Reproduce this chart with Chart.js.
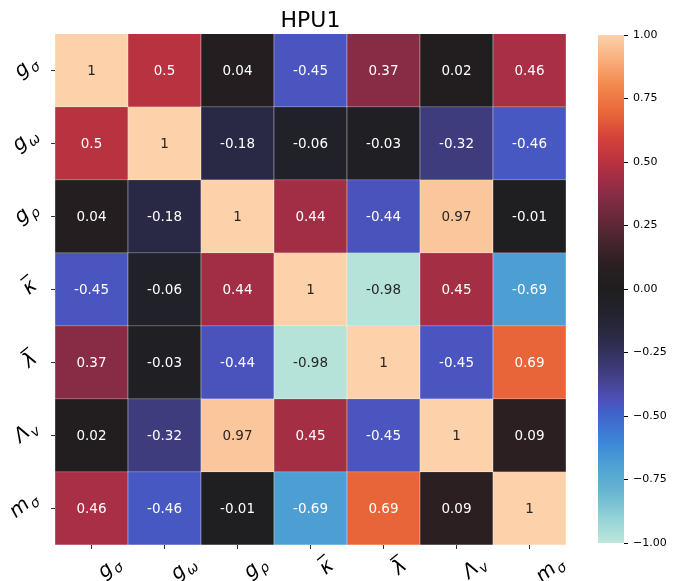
<!DOCTYPE html>
<html>
<head>
<meta charset="utf-8">
<script src="https://cdn.jsdelivr.net/npm/chart.js@4.4.0/dist/chart.umd.min.js"></script>
<style>
  body { margin: 0; background: #fff; }
  #wrap { position: relative; width: 691px; height: 581px; overflow: hidden; }
  #main { position: absolute; left: 0; top: 0; width: 691px; height: 581px; }
  #cbar { position: absolute; left: 590px; top: 0; width: 101px; height: 581px; }
</style>
</head>
<body>
<div id="wrap">
  <div id="main"><canvas id="heat"></canvas></div>
  <div id="cbar"><canvas id="bar"></canvas></div>
</div>
<script>
const title = "HPU1";

// axis labels: base symbol, subscript, overbar
const labelBase = ["g", "g", "g", "κ", "λ", "Λ", "m"];
const labelSub = ["σ", "ω", "ρ", "", "", "v", "σ"];
const labelBar = [false, false, false, true, true, false, false];

// correlation matrix, one row at a time
const rowGs = [1, 0.5, 0.04, -0.45, 0.37, 0.02, 0.46];
const rowGw = [0.5, 1, -0.18, -0.06, -0.03, -0.32, -0.46];
const rowGr = [0.04, -0.18, 1, 0.44, -0.44, 0.97, -0.01];
const rowKappa = [-0.45, -0.06, 0.44, 1, -0.98, 0.45, -0.69];
const rowLambda = [0.37, -0.03, -0.44, -0.98, 1, -0.45, 0.69];
const rowLv = [0.02, -0.32, 0.97, 0.45, -0.45, 1, 0.09];
const rowMs = [0.46, -0.46, -0.01, -0.69, 0.69, 0.09, 1];
const corr = [rowGs, rowGw, rowGr, rowKappa, rowLambda, rowLv, rowMs];

// colour bar range and ticks
const cbMin = -1, cbMax = 1, cbStep = 0.25;

// approximate "icefire" colour map
const stops = [
  [-1.00, "#bde7db"], [-0.90, "#93d2d6"], [-0.80, "#69b5d1"], [-0.70, "#4fa2d2"],
  [-0.60, "#3c86d8"], [-0.50, "#3f66cc"], [-0.45, "#4a55c0"], [-0.40, "#4a4aa6"],
  [-0.30, "#3b3972"], [-0.20, "#2c2b4a"], [-0.10, "#232330"], [0.00, "#1f1e1f"],
  [0.10, "#2c1f22"], [0.20, "#4a2530"], [0.30, "#6f2a3c"], [0.37, "#872c44"],
  [0.46, "#a82f45"], [0.50, "#b9323f"], [0.60, "#d5433a"], [0.69, "#e8653a"],
  [0.80, "#f3884c"], [0.90, "#f9ad7b"], [1.00, "#fdd1aa"]
];

function hex2rgb(h) {
  return [parseInt(h.slice(1, 3), 16), parseInt(h.slice(3, 5), 16), parseInt(h.slice(5, 7), 16)];
}
function colorRGB(v) {
  for (let k = 0; k < stops.length - 1; k++) {
    const a = stops[k], b = stops[k + 1];
    if (v >= a[0] && v <= b[0]) {
      const t = (v - a[0]) / (b[0] - a[0]);
      const ca = hex2rgb(a[1]), cb = hex2rgb(b[1]);
      return ca.map((c, i) => Math.round(c + (cb[i] - c) * t));
    }
  }
  return hex2rgb(v < 0 ? stops[0][1] : stops[stops.length - 1][1]);
}
function colorFor(v) {
  const c = colorRGB(v);
  return `rgb(${c[0]},${c[1]},${c[2]})`;
}
function textColorFor(v) {
  const lin = colorRGB(v).map(c => {
    c = c / 255;
    return c <= 0.03928 ? c / 12.92 : Math.pow((c + 0.055) / 1.055, 2.4);
  });
  const lum = 0.2126 * lin[0] + 0.7152 * lin[1] + 0.0722 * lin[2];
  return lum > 0.408 ? "#262626" : "#ffffff";
}

const FONT = '"DejaVu Sans", sans-serif';
const ROT = 40 * Math.PI / 180;

function labelSize(ctx, i) {
  ctx.font = "italic 20px " + FONT;
  const wb = ctx.measureText(labelBase[i]).width;
  ctx.font = "italic 14px " + FONT;
  const ws = labelSub[i] ? ctx.measureText(labelSub[i]).width + 1 : 0;
  return { wb: wb, w: wb + ws, a: labelBar[i] ? 19 : 15, d: 6 };
}

function rotatedBox(m) {
  const c = Math.cos(ROT), s = Math.sin(ROT);
  const xs = [], ys = [];
  [[0, -m.a], [m.w, -m.a], [0, m.d], [m.w, m.d]].forEach(p => {
    xs.push(p[0] * c + p[1] * s);
    ys.push(-p[0] * s + p[1] * c);
  });
  return { minX: Math.min(...xs), maxX: Math.max(...xs), minY: Math.min(...ys), maxY: Math.max(...ys) };
}

function drawLabel(ctx, i, px, py, m) {
  ctx.save();
  ctx.translate(px, py);
  ctx.rotate(-ROT);
  ctx.fillStyle = "#000";
  ctx.textAlign = "left";
  ctx.textBaseline = "alphabetic";
  ctx.font = "italic 20px " + FONT;
  ctx.fillText(labelBase[i], 0, 0);
  if (labelSub[i]) {
    ctx.font = "italic 14px " + FONT;
    ctx.fillText(labelSub[i], m.wb + 1, 5);
  }
  if (labelBar[i]) {
    ctx.strokeStyle = "#000";
    ctx.lineWidth = 1.3;
    ctx.beginPath();
    ctx.moveTo(3, -17);
    ctx.lineTo(m.wb + 1, -17);
    ctx.stroke();
  }
  ctx.restore();
}

const heatLabels = {
  id: "heatLabels",
  afterDatasetsDraw(chart) {
    const ctx = chart.ctx;
    const ca = chart.chartArea;
    // cell values
    ctx.save();
    ctx.font = "13.5px " + FONT;
    ctx.textAlign = "center";
    ctx.textBaseline = "middle";
    corr.forEach((row, i) => {
      const meta = chart.getDatasetMeta(i);
      meta.data.forEach((el, j) => {
        ctx.fillStyle = textColorFor(row[j]);
        ctx.fillText(String(row[j]), el.x, (el.y + el.base) / 2 + 1);
      });
    });
    ctx.restore();

    // title
    ctx.save();
    ctx.font = "22px " + FONT;
    ctx.fillStyle = "#000";
    ctx.textAlign = "center";
    ctx.textBaseline = "alphabetic";
    ctx.fillText(title, (ca.left + ca.right) / 2, 27);
    ctx.restore();

    // tick labels
    const xs = chart.scales.x, ys = chart.scales.y;
    labelBase.forEach((_, i) => {
      const m = labelSize(ctx, i);
      const b = rotatedBox(m);
      const tx = xs.getPixelForValue(i);
      drawLabel(ctx, i, tx + 3 - b.minX, ca.bottom + 8 - b.minY, m);
      const ty = ys.getPixelForValue(i + 0.5);
      drawLabel(ctx, i, ca.left - 13 - b.maxX, ty - 3 - (b.minY + b.maxY) / 2, m);
    });
  }
};

const datasets = corr.map((row, i) => ({
  label: "row" + i,
  data: row.map(() => 1),
  backgroundColor: row.map(v => colorFor(v)),
  borderColor: "#ffffff",
  borderWidth: 0.5,
  barPercentage: 1,
  categoryPercentage: 1,
  stack: "s"
}));

new Chart(document.getElementById("heat"), {
  type: "bar",
  data: { labels: labelBase.map((b, i) => b + labelSub[i]), datasets: datasets },
  plugins: [heatLabels],
  options: {
    responsive: true,
    maintainAspectRatio: false,
    animation: false,
    layout: { padding: { top: 34, right: 125, left: 0, bottom: 0 } },
    plugins: { legend: { display: false }, tooltip: { enabled: false }, title: { display: false } },
    scales: {
      x: {
        stacked: true,
        offset: true,
        ticks: { display: false },
        grid: { offset: false, drawOnChartArea: false, drawTicks: true, tickLength: 4, color: "#333" },
        border: { display: false },
        afterFit(s) { s.height = 36; }
      },
      y: {
        stacked: true,
        min: 0,
        max: corr.length,
        reverse: true,
        afterBuildTicks(s) { s.ticks = corr.map((_, i) => ({ value: i + 0.5 })); },
        ticks: { display: false },
        grid: { drawOnChartArea: false, drawTicks: true, tickLength: 4, color: "#333" },
        border: { display: false },
        afterFit(s) { s.width = 55; }
      }
    }
  }
});

// colour bar
new Chart(document.getElementById("bar"), {
  type: "bar",
  data: {
    labels: [""],
    datasets: [{
      data: [[cbMin, cbMax]],
      backgroundColor(c) {
        const ca = c.chart.chartArea;
        if (!ca) return "#000";
        const g = c.chart.ctx.createLinearGradient(0, ca.bottom, 0, ca.top);
        stops.forEach(s => g.addColorStop((s[0] - cbMin) / (cbMax - cbMin), s[1]));
        return g;
      },
      borderWidth: 0,
      barPercentage: 1,
      categoryPercentage: 1
    }]
  },
  options: {
    responsive: true,
    maintainAspectRatio: false,
    animation: false,
    layout: { padding: { top: 35, bottom: 38, left: 8, right: 0 } },
    plugins: { legend: { display: false }, tooltip: { enabled: false } },
    scales: {
      x: { display: false },
      y: {
        position: "right",
        min: cbMin,
        max: cbMax,
        ticks: {
          stepSize: cbStep,
          color: "#000",
          padding: 5,
          font: { family: "DejaVu Sans", size: 11 },
          callback: v => v.toFixed(2).replace("-", "\u2212")
        },
        grid: { drawOnChartArea: false, drawTicks: true, tickLength: 4, color: "#000" },
        border: { display: false },
        afterFit(s) { s.width = 67; }
      }
    }
  }
});
</script>
</body>
</html>
